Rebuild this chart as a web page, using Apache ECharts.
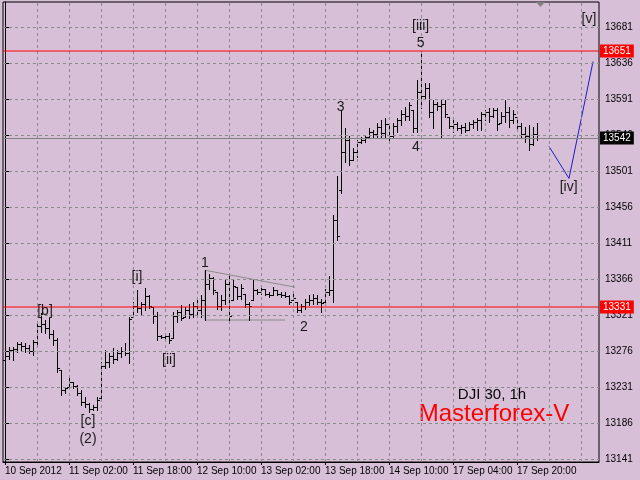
<!DOCTYPE html>
<html><head><meta charset="utf-8">
<script src="https://cdn.jsdelivr.net/npm/echarts@6/dist/echarts.min.js"></script>
<style>html,body{margin:0;padding:0;background:#D8BFD8;}#c{width:640px;height:480px;}</style>
</head><body><div id="c"></div>
<script>
// ---- data ----
const tickLabels = ['10 Sep 2012','11 Sep 02:00','11 Sep 18:00','12 Sep 10:00','13 Sep 02:00','13 Sep 18:00','14 Sep 10:00','17 Sep 04:00','17 Sep 20:00'];
const priceTicks = [13141,13186,13231,13276,13321,13366,13411,13456,13501,13546,13591,13636,13681];
const vGrid = [8,16,24,32,40,48,56,64,72,80,88,96,104,112,120,128,136,144];

const openP = [13265,13270,13277,13279,13285,13283,13280,13276,13287,13307,
13310,13305,13297,13290,13253,13228,13231,13238,13233,13224,
13212,13210,13204,13206,13218,13258,13262,13270,13266,13274,
13276,13274,13319,13332,13330,13335,13345,13331,13320,13295,
13294,13295,13293,13320,13325,13319,13328,13322,13333,13328,
13340,13360,13368,13350,13333,13340,13360,13340,13356,13345,
13348,13335,13340,13352,13350,13354,13348,13346,13352,13348,
13346,13345,13340,13338,13328,13332,13338,13340,13343,13338,
13338,13350,13352,13440,13478,13525,13540,13515,13525,13537,
13540,13544,13550,13547,13556,13549,13560,13545,13557,13565,
13573,13570,13578,13555,13600,13595,13605,13575,13585,13582,
13585,13569,13558,13560,13555,13556,13553,13560,13562,13565,
13572,13575,13570,13577,13561,13570,13575,13565,13569,13558,
13548,13545,13535,13548];
const highP = [13274,13281,13281,13288,13288,13286,13284,13290,13311,13324,
13315,13318,13303,13293,13253,13231,13243,13238,13234,13228,
13219,13211,13209,13219,13263,13278,13274,13280,13278,13281,
13286,13319,13338,13353,13338,13355,13346,13331,13325,13296,
13296,13299,13325,13328,13334,13331,13335,13338,13343,13346,
13378,13373,13369,13350,13346,13365,13371,13365,13356,13360,
13348,13338,13365,13354,13356,13354,13350,13356,13353,13350,
13350,13346,13350,13338,13335,13341,13346,13348,13346,13341,
13354,13370,13446,13495,13578,13555,13545,13530,13540,13544,
13546,13555,13553,13561,13565,13568,13561,13561,13568,13578,
13581,13588,13578,13615,13651,13611,13611,13590,13588,13590,
13590,13569,13565,13563,13559,13561,13563,13565,13568,13575,
13578,13580,13580,13580,13575,13590,13581,13578,13569,13561,
13556,13559,13556,13561];
const lowP = [13263,13266,13265,13275,13278,13275,13274,13271,13281,13300,
13299,13293,13284,13250,13221,13224,13231,13230,13221,13209,
13206,13200,13203,13203,13218,13255,13256,13261,13265,13269,
13271,13261,13319,13325,13321,13328,13330,13311,13290,13293,
13290,13286,13293,13313,13315,13319,13318,13319,13321,13319,
13315,13354,13348,13329,13328,13335,13315,13340,13341,13341,
13331,13315,13340,13348,13348,13346,13344,13346,13346,13344,
13344,13335,13340,13325,13325,13329,13334,13335,13335,13325,
13338,13346,13338,13415,13474,13513,13509,13515,13519,13536,
13538,13543,13544,13544,13543,13543,13538,13544,13550,13559,
13565,13565,13550,13550,13580,13593,13569,13555,13578,13544,
13569,13555,13550,13553,13549,13550,13553,13555,13553,13553,
13565,13563,13569,13553,13561,13563,13556,13561,13553,13544,
13538,13528,13534,13540];
const closeP = [13270,13277,13279,13285,13283,13280,13276,13287,13307,13310,
13305,13297,13290,13255,13228,13230,13238,13233,13224,13212,
13210,13204,13206,13215,13258,13262,13270,13266,13274,13276,
13274,13316,13332,13330,13335,13345,13333,13320,13295,13294,
13295,13290,13320,13325,13318,13328,13322,13333,13328,13340,
13360,13368,13352,13333,13340,13360,13320,13358,13345,13355,
13335,13333,13352,13350,13354,13348,13346,13352,13348,13346,
13345,13338,13343,13328,13332,13338,13340,13343,13338,13336,
13350,13352,13440,13420,13525,13540,13515,13525,13537,13540,
13544,13550,13547,13556,13549,13560,13545,13557,13565,13573,
13570,13584,13555,13600,13595,13605,13575,13585,13582,13585,
13572,13558,13560,13555,13556,13552,13560,13562,13565,13572,
13575,13570,13577,13560,13570,13575,13565,13572,13558,13548,
13545,13535,13548,13542];

const projX = [136, 141, 147];
const projY = [13532, 13492, 13638];
const trendUpperX = [50.2, 72.5];
const trendUpperY = [13377, 13356];
const trendLowerX = [50, 50, 70];
const trendLowerY = [13377, 13315, 13315];

const levelValues = [13542, 13651, 13331];

const waveText = ['[b]','[c]','(2)','[i]','[ii]','1','2','3','4','[iii]','5','[iv]','[v]'];
const waveX = [10, 20.75, 20.75, 33, 41, 50, 74.75, 83.9, 102.75, 103.9, 103.9, 140.9, 146];
const waveY = [13326, 13188, 13166, 13369, 13265, 13386, 13306, 13581, 13531, 13682, 13661, 13481, 13691];

// ---- styles ----
const levelStyles = [
  {line: '#808080', box: '#000000', crisp: true},
  {line: '#ff0000', box: '#ff0000', crisp: false},
  {line: '#ff0000', box: '#ff0000', crisp: false}
];

// ---- chart ----
const NSLOTS = 149;
const XMIN = -0.5, XMAX = 148.5;
const slots = []; for (let i = 0; i < NSLOTS; i++) slots.push(String(i));
const ohlc = highP.map((h, i) => [i, openP[i], h, lowP[i], closeP[i]]);
const lastBar = highP.length - 1;
const labelInterval = (idx) => idx % 16 === 0 && idx <= lastBar;
const FONT = 'Liberation Sans';

function renderItem(params, api) {
  const i = api.value(0);
  const o = api.coord([i, api.value(1)]);
  const h = api.coord([i, api.value(2)]);
  const l = api.coord([i, api.value(3)]);
  const c = api.coord([i, api.value(4)]);
  const fx = Math.floor(h[0]);
  const x = fx + 0.5;
  const yo = Math.round(o[1]) + 0.5, yc = Math.round(c[1]) + 0.5;
  const st = {stroke: '#000', lineWidth: 1};
  return {type: 'group', children: [
    {type: 'line', shape: {x1: x, y1: Math.round(h[1]), x2: x, y2: Math.round(l[1]) + 1}, style: st},
    {type: 'line', shape: {x1: fx - 2, y1: yo, x2: fx, y2: yo}, style: st},
    {type: 'line', shape: {x1: fx + 1, y1: yc, x2: fx + 3, y2: yc}, style: st}
  ]};
}

function renderLevel(params, api) {
  const idx = params.dataIndex;
  const s = levelStyles[idx];
  const v = api.value(1);
  const p = api.coord([0, v]);
  const cs = params.coordSys;
  const y = s.crisp ? Math.floor(p[1]) + 0.5 : Math.round(p[1]);
  return {type: 'group', children: [
    {type: 'line', shape: {x1: cs.x, y1: y, x2: cs.x + cs.width, y2: y},
     style: {stroke: s.line, lineWidth: 1}},
    {type: 'text', x: cs.x + cs.width + 1, y: Math.round(p[1]), style: {text: String(v), fill: '#fff',
      backgroundColor: s.box, padding: [2, 3, 1, 3], font: '10px "Liberation Sans"',
      verticalAlign: 'middle', align: 'left'}}
  ]};
}

const chart = echarts.init(document.getElementById('c'), null, {renderer: 'canvas'});
const option = {
  backgroundColor: '#D8BFD8',
  animation: false,
  textStyle: {fontFamily: FONT},
  grid: {left: 3, right: 41, top: 2, bottom: 18, show: true, borderColor: '#000', borderWidth: 1, containLabel: false, outerBoundsMode: 'none'},
  xAxis: [
    {type: 'category', data: slots, boundaryGap: true,
     axisLine: {show: true, lineStyle: {color: '#000'}},
     axisTick: {show: true, alignWithLabel: true, interval: labelInterval, length: 3, lineStyle: {color: '#000'}},
     axisLabel: {interval: labelInterval, formatter: (v, idx) => tickLabels[idx / 16], align: 'left', color: '#000', fontSize: 10, fontFamily: FONT, margin: 4},
     splitLine: {show: false}},
    {type: 'value', min: XMIN, max: XMAX, show: false, splitLine: {show: false}}
  ],
  yAxis: {type: 'value', position: 'right', min: 13137.5, max: 13712.5, scale: true,
    axisLine: {show: true, lineStyle: {color: '#000'}},
    axisTick: {show: true, length: 4, customValues: priceTicks, lineStyle: {color: '#000'}},
    axisLabel: {customValues: priceTicks, formatter: v => String(v), color: '#000', fontSize: 10, fontFamily: FONT, margin: 6},
    splitLine: {show: false}},
  graphic: [
    {type: 'text', style: {x: 492, y: 395, text: 'DJI 30, 1h', font: '15px "Liberation Sans"', fill: '#000', textAlign: 'center', textVerticalAlign: 'middle'}},
    {type: 'text', style: {x: 494, y: 414, text: 'Masterforex-V', font: '24px "Liberation Sans"', fill: '#ff0000', textAlign: 'center', textVerticalAlign: 'middle'}},
    {type: 'polygon', shape: {points: [[536, 2], [545, 2], [540.5, 7]]}, style: {fill: '#808080'}}
  ],
  series: [
    {type: 'line', xAxisIndex: 1, data: [], z: 1, silent: true,
     markLine: {symbol: 'none', silent: true, animation: false, label: {show: false},
       lineStyle: {color: '#8a8a8a', type: [3, 3], width: 1},
       data: priceTicks.map(v => ({yAxis: v})).concat(vGrid.map(v => ({xAxis: v})))}},
    {type: 'custom', xAxisIndex: 1, data: ohlc, encode: {x: 0, y: [1, 2, 3, 4]}, renderItem: renderItem, z: 3, clip: true},
    {type: 'line', xAxisIndex: 1, data: trendUpperX.map((x, i) => [x, trendUpperY[i]]), symbol: 'none', z: 2,
     lineStyle: {color: '#8c8c8c', width: 1}},
    {type: 'line', xAxisIndex: 1, data: trendLowerX.map((x, i) => [x, trendLowerY[i]]), symbol: 'none', z: 2,
     lineStyle: {color: '#8c8c8c', width: 1}},
    {type: 'line', xAxisIndex: 1, data: projX.map((x, i) => [x, projY[i]]), symbol: 'none', z: 4,
     lineStyle: {color: '#1c1cc8', width: 1}},
    {type: 'custom', xAxisIndex: 1, z: 5, silent: true, clip: false,
     data: levelValues.map(v => [0, v]), encode: {x: 0, y: 1}, renderItem: renderLevel},
    {type: 'scatter', xAxisIndex: 1, symbolSize: 0, z: 6, silent: true, itemStyle: {opacity: 1},
     data: waveText.map((t, i) => ({name: t, value: [waveX[i], waveY[i]]})),
     label: {show: true, position: 'inside', formatter: p => p.name, color: '#1a1a1a', opacity: 1, fontSize: 14, fontFamily: FONT}}
  ]
};
chart.setOption(option);
</script>
</body></html>
